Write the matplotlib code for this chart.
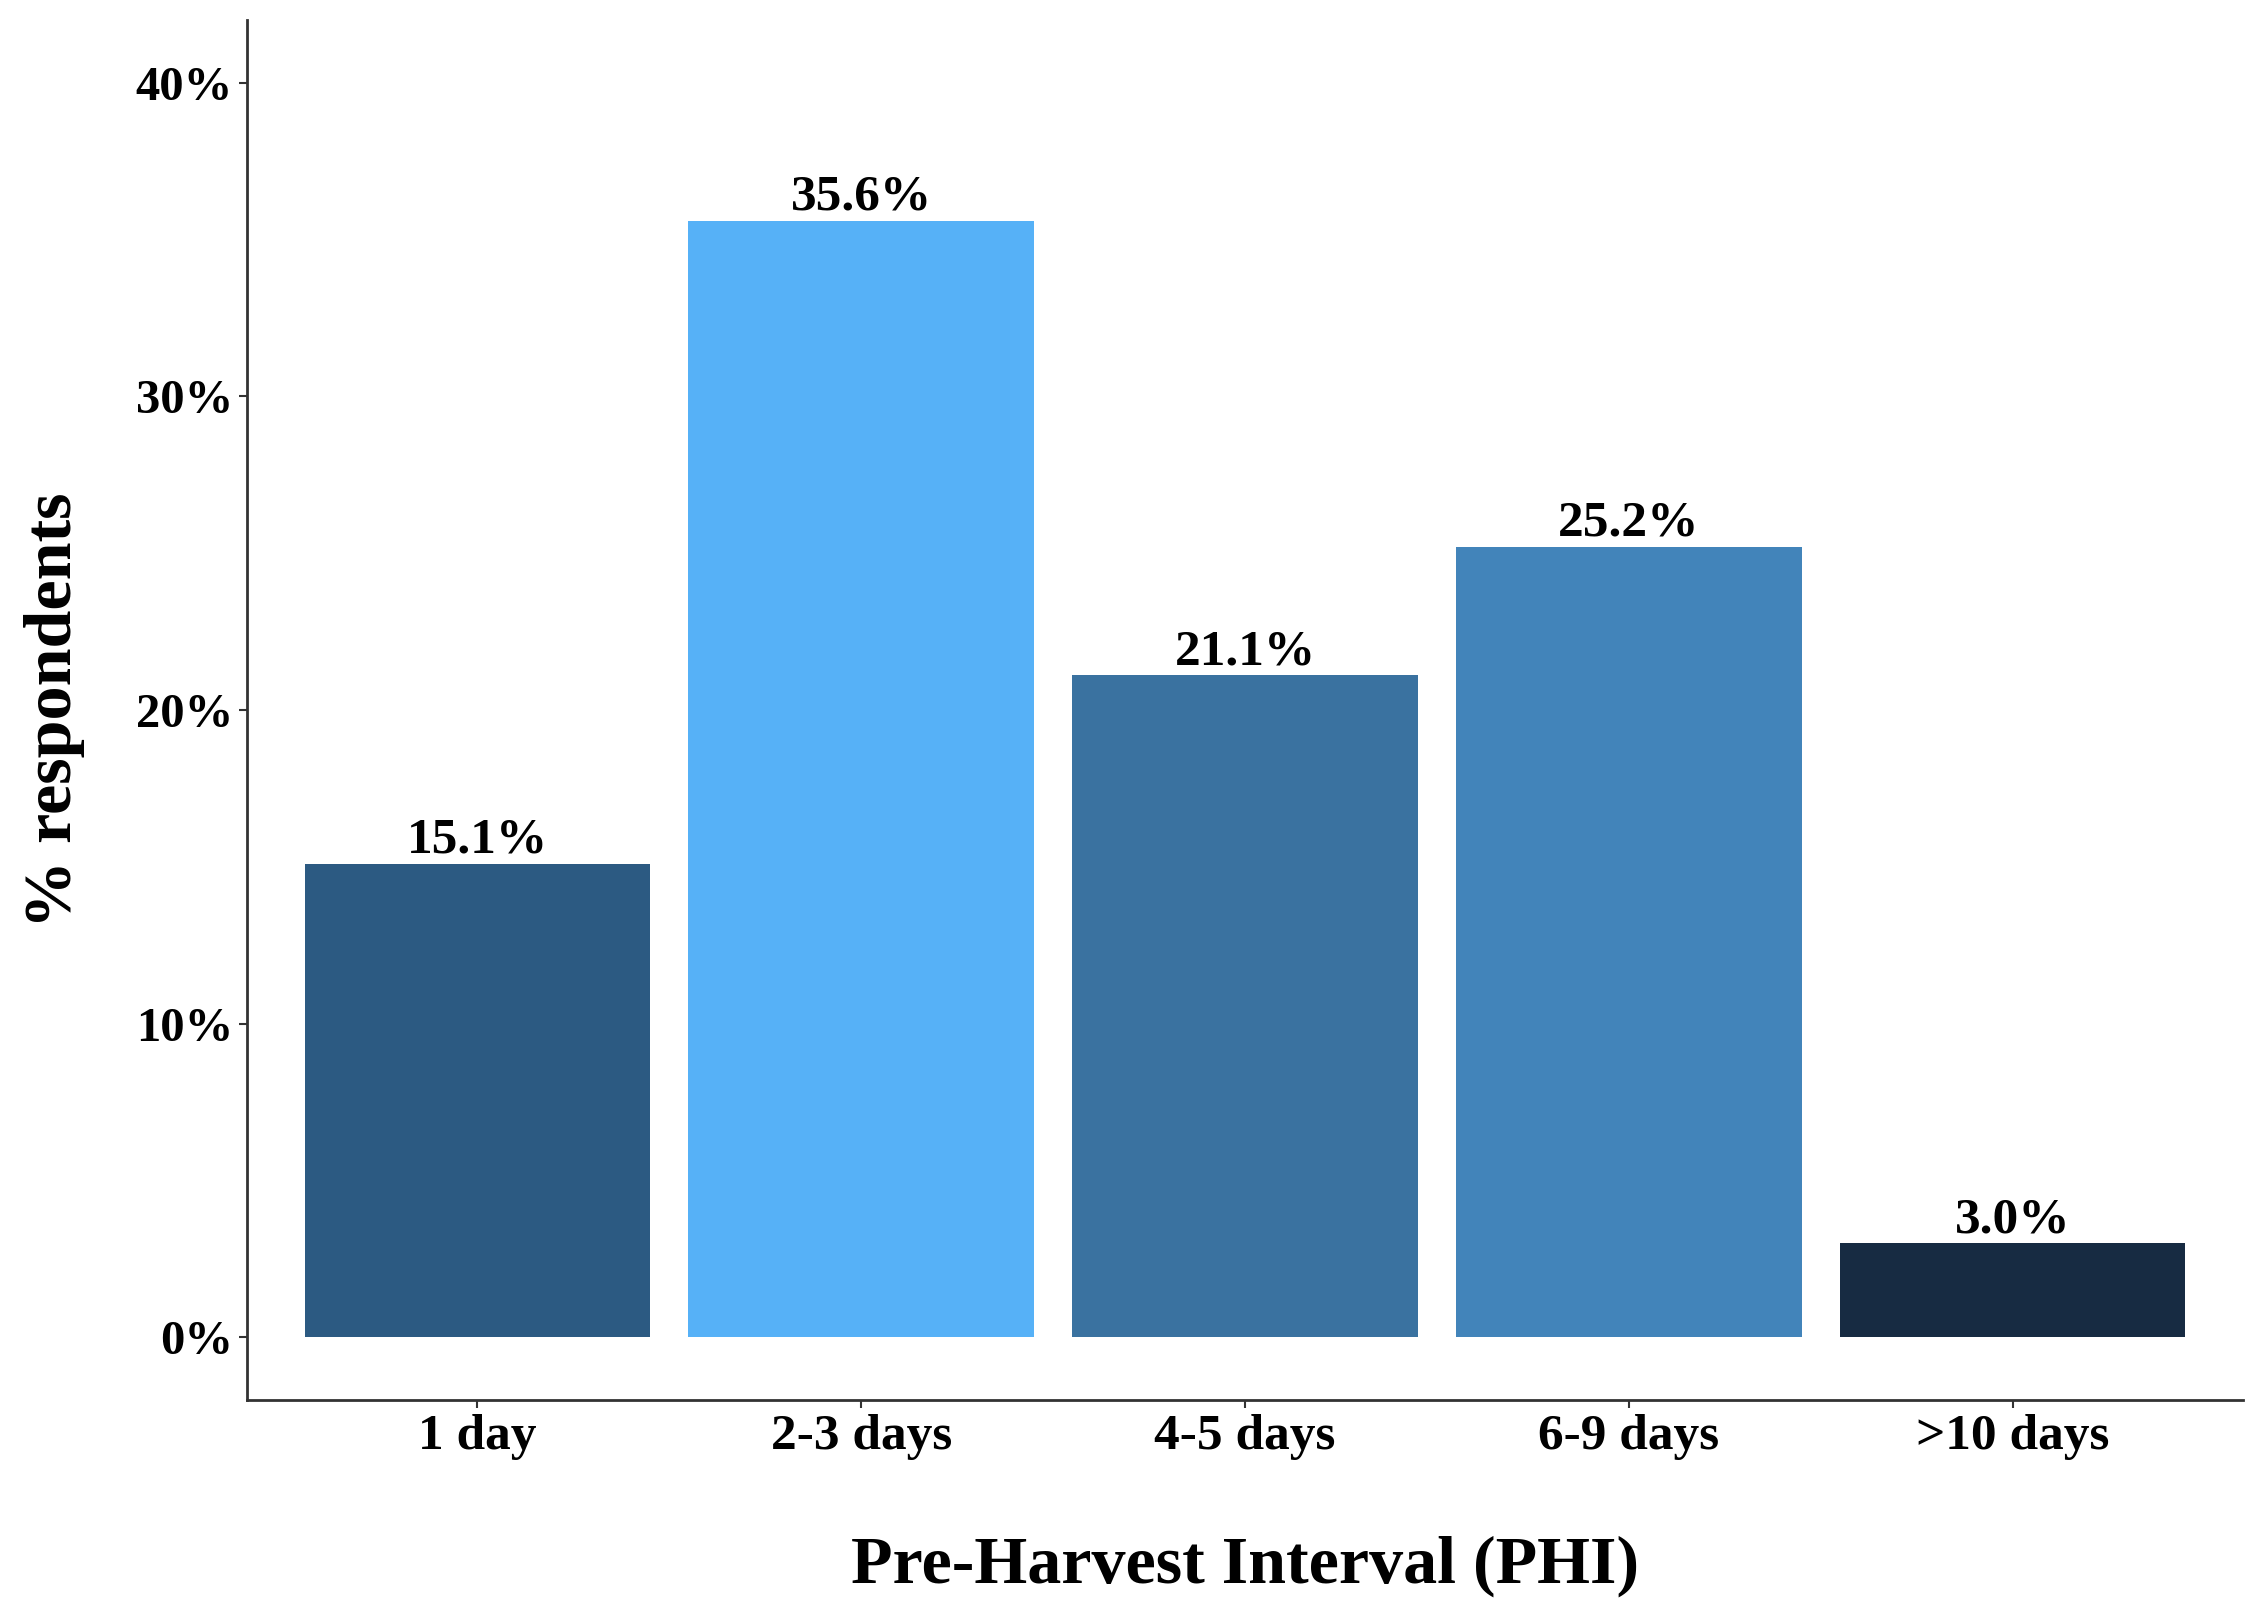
import matplotlib
matplotlib.use("Agg")
import matplotlib.pyplot as plt

categories = ["1 day", "2-3 days", "4-5 days", "6-9 days", ">10 days"]
values = [15.1, 35.6, 21.1, 25.2, 3.0]
bar_colors = ["#2C5A82", "#56B1F7", "#3A72A0", "#4284BA", "#172B42"]
yticks = [0, 10, 20, 30, 40]
ytick_labels = ["0%", "10%", "20%", "30%", "40%"]

plt.rcParams["font.family"] = ["Liberation Serif", "DejaVu Serif"]
plt.rcParams["font.weight"] = "bold"

fig = plt.figure(figsize=(22.62, 16.17), dpi=100)
ax = fig.add_axes([247/2262, 1 - 1400/1617, (2243-247)/2262, (1400-20)/1617])

x = list(range(1, len(categories) + 1))
ax.bar(x, values, width=0.9, color=bar_colors)
for xi, v in zip(x, values):
    ax.annotate(f"{v:.1f}%", (xi, v), xytext=(0, 11), textcoords="offset pixels",
                ha="center", va="baseline", fontsize=37, fontweight="bold")

ax.set_xlim(0.4, 5.6)
ax.set_ylim(-2, 42)
ax.set_xticks(x)
ax.set_xticklabels(categories, fontsize=37, fontweight="bold")
ax.set_yticks(yticks)
ax.set_yticklabels(ytick_labels, fontsize=35, fontweight="bold")

for s in ["top", "right"]:
    ax.spines[s].set_visible(False)
for s in ["left", "bottom"]:
    ax.spines[s].set_linewidth(2)
    ax.spines[s].set_color("#333333")
ax.tick_params(axis="both", length=6, width=1.5, color="#333333", pad=4)

fig.text((247+2243)/2/2262, 1 - 1566/1617, "Pre-Harvest Interval (PHI)",
         ha="center", va="center", fontsize=49, fontweight="bold")
fig.text(55/2262, 1 - 710/1617, "% respondents", rotation=90,
         ha="center", va="center", fontsize=49, fontweight="bold")

fig.savefig("out.png", dpi=100, facecolor="white")
